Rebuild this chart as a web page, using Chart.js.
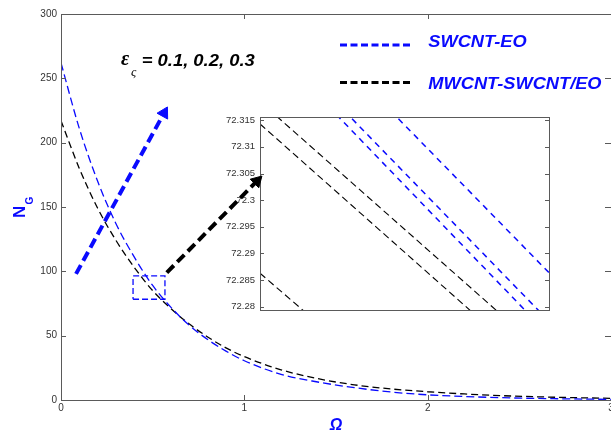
<!DOCTYPE html>
<html>
<head>
<meta charset="utf-8">
<script src="https://cdn.jsdelivr.net/npm/chart.js@4/dist/chart.umd.min.js"></script>
<style>
  html, body { margin: 0; padding: 0; background: #fff; }
  #wrap { position: relative; width: 611px; height: 435px; }
  #inset { position: absolute; left: 200px; top: 110px; z-index: 0; }
  #main { position: absolute; left: 0; top: 0; z-index: 1; }
</style>
</head>
<body>
<div id="wrap">
  <canvas id="inset" width="356" height="206"></canvas>
  <canvas id="main" width="611" height="435"></canvas>
</div>
<script>
// main curves
const omega = [0, 0.1, 0.2, 0.3, 0.4, 0.5, 0.6, 0.7, 0.8, 0.9, 1.0, 1.2, 1.4, 1.6, 1.8, 2.0, 2.2, 2.4, 2.6, 2.8, 3.0];
const ngSwcnt = [262, 211, 170, 137, 111, 89, 72, 58, 47, 38, 30.5, 20, 14, 9.6, 6.2, 4.0, 2.7, 1.8, 1.2, 0.8, 0.5];
const ngHybrid = [217, 180, 149, 124, 103, 85, 71, 59, 49, 40.5, 33.7, 23.5, 16.6, 11.8, 8.6, 6.4, 4.7, 3.4, 2.5, 1.8, 1.3];

const seriesNames = ["SWCNT-EO", "MWCNT-SWCNT/EO"];
const epsLabel = "= 0.1, 0.2, 0.3";

// arrows and zoom box (omega, N_G)
const arrowBlueX = [0.082, 0.562];
const arrowBlueY = [98, 223];
const arrowBlackX = [0.577, 1.069];
const arrowBlackY = [99, 170.2];
const boxX = [0.393, 0.567, 0.567, 0.393, 0.393];
const boxY = [78.3, 78.3, 96.4, 96.4, 78.3];

const xTicks = [0, 1, 2, 3];
const yTicks = [0, 50, 100, 150, 200, 250, 300];

// inset: three eps values per material, straight segments across the window
const insetX = [0, 1];
const insetSw1 = [72.3309, 72.2747];
const insetSw2 = [72.3330, 72.2773];
const insetSw3 = [72.3418, 72.2864];
const insetHy1 = [72.3143, 72.2662];
const insetHy2 = [72.3185, 72.2706];
const insetHy3 = [72.2863, 72.2396];
const insetTicks = [72.28, 72.285, 72.29, 72.295, 72.3, 72.305, 72.31, 72.315];

const BLUE = "#0a0aff";
const AXIS = "#5a5a5a";
const FONT = "'Liberation Sans', Arial, sans-serif";

function pts(xs, ys) {
  return xs.map((x, i) => ({ x: x, y: ys[i] }));
}

function stretchedText(ctx, text, x, y, font, color, sx) {
  ctx.save();
  ctx.translate(x, y);
  ctx.scale(sx, 1);
  ctx.font = font;
  ctx.fillStyle = color;
  ctx.textAlign = "left";
  ctx.textBaseline = "alphabetic";
  ctx.fillText(text, 0, 0);
  ctx.restore();
}

const mainFrame = {
  id: "mainFrame",
  afterDraw(chart) {
    const ctx = chart.ctx;
    const a = chart.chartArea;
    const sx = chart.scales.x, sy = chart.scales.y;
    ctx.save();
    ctx.strokeStyle = AXIS;
    ctx.lineWidth = 1;
    ctx.strokeRect(Math.round(a.left) + 0.5, Math.round(a.top) + 0.5, a.right - a.left, a.bottom - a.top);
    ctx.beginPath();
    yTicks.forEach(v => {
      const y = Math.round(sy.getPixelForValue(v)) + 0.5;
      ctx.moveTo(a.left, y); ctx.lineTo(a.left + 5, y);
      ctx.moveTo(a.right, y); ctx.lineTo(a.right - 6, y);
    });
    xTicks.forEach(v => {
      const x = Math.round(sx.getPixelForValue(v)) + 0.5;
      ctx.moveTo(x, a.bottom); ctx.lineTo(x, a.bottom - 5);
      ctx.moveTo(x, a.top); ctx.lineTo(x, a.top + 5);
    });
    ctx.stroke();

    // y title N_G
    ctx.save();
    ctx.translate(25, 218);
    ctx.rotate(-Math.PI / 2);
    ctx.fillStyle = BLUE;
    ctx.textBaseline = "alphabetic";
    ctx.font = "bold 17px " + FONT;
    ctx.fillText("N", 0, 0);
    ctx.font = "bold 10px " + FONT;
    ctx.fillText("G", 13.5, 8);
    ctx.restore();

    // epsilon label
    ctx.fillStyle = "#000";
    ctx.font = "bold italic 20px 'Liberation Serif', serif";
    ctx.fillText("\u03b5", 121, 65);
    ctx.font = "italic 13px 'Liberation Serif', serif";
    ctx.fillText("\u03c2", 131, 76);
    stretchedText(ctx, epsLabel, 141.7, 66, "bold italic 16px " + FONT, "#000", 1.15);

    // legend
    const rows = [{ y: 45, color: BLUE, tY: 46.5 }, { y: 82.5, color: "#000", tY: 89 }];
    rows.forEach((r, i) => {
      ctx.save();
      ctx.strokeStyle = r.color;
      ctx.lineWidth = 3;
      ctx.setLineDash([7, 3.5]);
      ctx.beginPath();
      ctx.moveTo(340, r.y); ctx.lineTo(412, r.y);
      ctx.stroke();
      ctx.restore();
      stretchedText(ctx, seriesNames[i], 428.3, r.tY, "bold italic 16px " + FONT, BLUE, 1.14);
    });
    ctx.restore();
  }
};

const insetFrame = {
  id: "insetFrame",
  afterDraw(chart) {
    const ctx = chart.ctx;
    const a = chart.chartArea;
    const sy = chart.scales.y;
    ctx.save();
    ctx.strokeStyle = AXIS;
    ctx.lineWidth = 1;
    ctx.strokeRect(Math.round(a.left) + 0.5, Math.round(a.top) + 0.5, a.right - a.left, a.bottom - a.top);
    ctx.beginPath();
    insetTicks.forEach(v => {
      const y = Math.round(sy.getPixelForValue(v)) + 0.5;
      ctx.moveTo(a.left, y); ctx.lineTo(a.left + 4, y);
      ctx.moveTo(a.right, y); ctx.lineTo(a.right - 4, y);
    });
    ctx.stroke();
    ctx.restore();
  }
};

function curve(data, color, width, dash) {
  return {
    data: data,
    borderColor: color,
    borderWidth: width,
    borderDash: dash,
    pointRadius: 0,
    fill: false,
    cubicInterpolationMode: "monotone"
  };
}

function arrow(xs, ys, color, rot) {
  return {
    data: pts(xs, ys),
    borderColor: color,
    backgroundColor: color,
    borderWidth: 4,
    borderDash: [10, 5],
    pointStyle: "triangle",
    pointRadius: [0, 7],
    pointBorderWidth: 1,
    pointBorderColor: color,
    pointBackgroundColor: color,
    pointRotation: rot,
    fill: false
  };
}

new Chart(document.getElementById("main"), {
  type: "line",
  data: {
    datasets: [
      Object.assign(curve(pts(omega, ngSwcnt), BLUE, 1.3, [8, 4]), { label: seriesNames[0] }),
      Object.assign(curve(pts(omega, ngHybrid), "#000", 1.3, [7, 4]), { label: seriesNames[1] }),
      Object.assign(curve(pts(boxX, boxY), BLUE, 1.3, [6, 3]), { cubicInterpolationMode: "default", tension: 0 }),
      arrow(arrowBlueX, arrowBlueY, BLUE, 29),
      arrow(arrowBlackX, arrowBlackY, "#000", 45)
    ]
  },
  options: {
    responsive: false,
    animation: false,
    layout: { padding: { left: 0, right: 0, top: 14, bottom: 0 }, autoPadding: false },
    plugins: { legend: { display: false }, tooltip: { enabled: false } },
    scales: {
      x: {
        type: "linear",
        min: 0,
        max: 3,
        afterFit: s => { s.height = 35; s.paddingLeft = 0; s.paddingRight = 0; },
        afterBuildTicks: s => { s.ticks = xTicks.map(v => ({ value: v })); },
        grid: { display: false, drawTicks: false },
        border: { display: false },
        ticks: { padding: 2, color: "#333", font: { family: FONT, size: 10 }, maxRotation: 0, autoSkip: false },
        title: {
          display: true,
          text: "\u03a9",
          color: BLUE,
          padding: { top: 0, bottom: 0 },
          font: { family: FONT, size: 16, style: "italic", weight: "bold" }
        }
      },
      y: {
        min: 0,
        max: 300,
        afterFit: s => { s.width = 61; s.paddingTop = 0; s.paddingBottom = 0; },
        afterBuildTicks: s => { s.ticks = yTicks.map(v => ({ value: v })); },
        grid: { display: false, drawTicks: false },
        border: { display: false },
        ticks: { padding: 4, color: "#333", font: { family: FONT, size: 10 } }
      }
    }
  },
  plugins: [mainFrame]
});

new Chart(document.getElementById("inset"), {
  type: "line",
  data: {
    datasets: [
      curve(pts(insetX, insetSw1), BLUE, 1.5, [6, 5]),
      curve(pts(insetX, insetSw2), BLUE, 1.5, [6, 5]),
      curve(pts(insetX, insetSw3), BLUE, 1.5, [6, 5]),
      curve(pts(insetX, insetHy1), "#000", 1.1, [7, 4]),
      curve(pts(insetX, insetHy2), "#000", 1.1, [7, 4]),
      curve(pts(insetX, insetHy3), "#000", 1.1, [7, 4])
    ]
  },
  options: {
    responsive: false,
    animation: false,
    layout: { padding: { left: 0, right: 7, top: 7, bottom: 6 }, autoPadding: false },
    plugins: { legend: { display: false }, tooltip: { enabled: false } },
    scales: {
      x: { type: "linear", min: 0, max: 1, display: false },
      y: {
        min: 72.2794,
        max: 72.3156,
        afterFit: s => { s.width = 60; s.paddingTop = 0; s.paddingBottom = 0; },
        afterBuildTicks: s => { s.ticks = insetTicks.map(v => ({ value: v })); },
        grid: { display: false, drawTicks: false },
        border: { display: false },
        ticks: {
          padding: 5,
          color: "#333",
          font: { family: FONT, size: 9.5 },
          callback: v => String(+v.toFixed(3))
        }
      }
    }
  },
  plugins: [insetFrame]
});
</script>
</body>
</html>
